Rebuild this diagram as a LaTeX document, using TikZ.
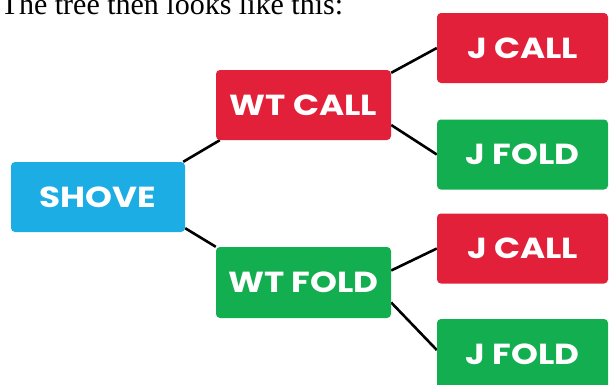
\documentclass[tikz,border=0pt]{standalone}
\usepackage{fontspec}
\setmainfont{Liberation Serif}
\newfontfamily\boxfont{Poppins}[FakeStretch=1.18]
\usetikzlibrary{backgrounds}
\definecolor{cshove}{HTML}{1BADE3}
\definecolor{ccall}{HTML}{E3203A}
\definecolor{cfold}{HTML}{12AE4F}
\tikzset{
  box/.style={rounded corners=4pt, inner sep=0pt, text=white,
    font=\boxfont\bfseries\fontsize{29}{29}\selectfont,
    minimum height=70pt},
  conn/.style={line width=2.6pt, black}
}
\begin{document}
\begin{tikzpicture}[x=1pt,y=-1pt]
\useasboundingbox (0,0) rectangle (609,384);
\node[anchor=base west, inner sep=0pt, font=\fontsize{30}{30}\selectfont] (title) at (0.5,14) {The tree then looks like this:};
\node[box, fill=cshove, minimum width=174pt] (shove) at (98,197) {SHOVE};
\node[box, fill=ccall, minimum width=175pt] (wtcall) at (303.5,105) {WT CALL};
\node[box, fill=cfold, minimum width=175pt, minimum height=71pt] (wtfold) at (303.5,282.5) {WT FOLD};
\node[box, fill=ccall, minimum width=171pt] (jcall1) at (522.5,48) {J CALL};
\node[box, fill=cfold, minimum width=171pt] (jfold1) at (522.5,154.5) {J FOLD};
\node[box, fill=ccall, minimum width=171pt] (jcall2) at (522.5,248.5) {J CALL};
\node[box, fill=cfold, minimum width=171pt] (jfold2) at (522.5,354) {J FOLD};
\begin{scope}[on background layer]
\draw[conn] ([xshift=-2pt]shove.north east) -- ([xshift=4pt]wtcall.south west);
\draw[conn] ([yshift=4pt]shove.south east) -- (wtfold.north west);
\draw[conn] ([yshift=-3pt]wtcall.north east) -- (jcall1.west);
\draw[conn] ([yshift=-20pt]wtcall.east) -- (jfold1.west);
\draw[conn] ([yshift=12pt]wtfold.east) -- (jcall2.west);
\draw[conn] ([yshift=-20pt]wtfold.east) -- ([yshift=4pt]jfold2.west);
\end{scope}
\end{tikzpicture}
\end{document}
